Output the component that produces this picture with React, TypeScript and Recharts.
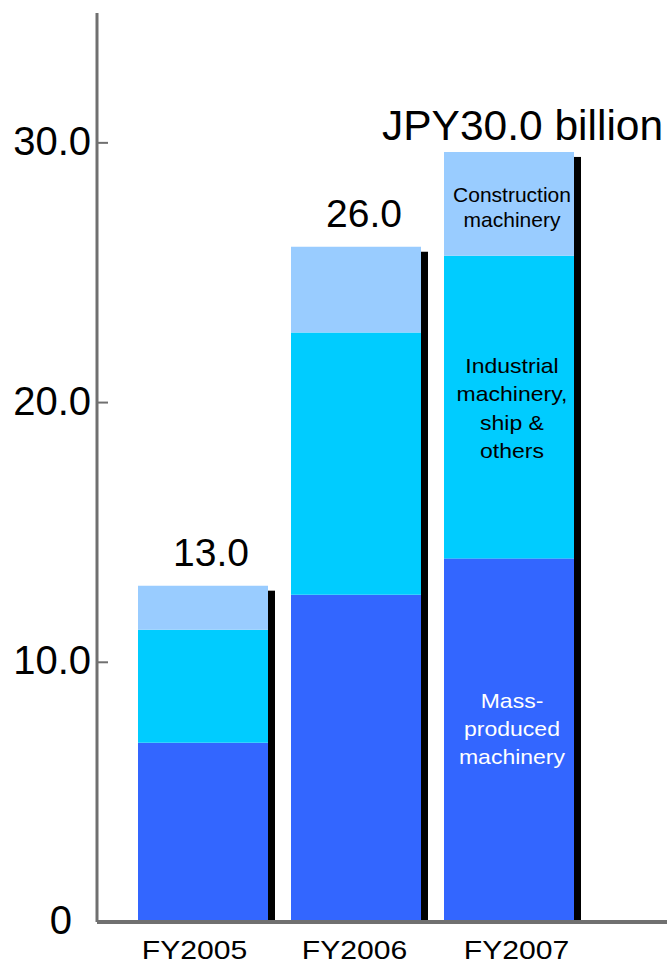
import { Bar, BarChart, LabelList, XAxis, YAxis } from 'recharts';

const YEARS = ['FY2005', 'FY2006', 'FY2007'];
const MASS = [6.9, 12.6, 14.0];
const INDUSTRIAL = [4.35, 10.1, 11.65];
const CONSTRUCTION = [1.7, 3.3, 4.0];
const TOTAL_LABELS = ['13.0', '26.0', 'JPY30.0 billion'];
const Y_TICKS = [0, 10, 20, 30];

const CONSTRUCTION_LINES = ['Construction', 'machinery'];
const INDUSTRIAL_LINES = ['Industrial', 'machinery,', 'ship &', 'others'];
const MASS_LINES = ['Mass-', 'produced', 'machinery'];

const FONT = '"Liberation Sans", Arial, Helvetica, sans-serif';
const AXIS_GREY = '#707070';

const data = YEARS.map((year, i) => ({
  year,
  mass: MASS[i],
  industrial: INDUSTRIAL[i],
  construction: CONSTRUCTION[i],
}));

// bottom segment also draws the black drop shadow on the right of the whole stack
const MassShape = (props: any) => {
  const { x, y, width, height, payload, fill } = props;
  const base = y + height;
  const ppu = height / payload.mass;
  const top = base - (payload.mass + payload.industrial + payload.construction) * ppu;
  return (
    <g>
      <rect x={x + width} y={top + 5} width={7} height={base - top - 4} fill="#000" />
      <rect x={x} y={y} width={width} height={height} fill={fill} />
    </g>
  );
};

const XTick = ({ x, y, payload, index }: any) => {
  const shift = [-8, -1, 8][index] ?? 0;
  return (
    <text
      transform={`translate(${x + shift},${y + 37}) scale(1.16,1)`}
      textAnchor="middle"
      fontSize={26}
      fontFamily={FONT}
      fill="#000"
    >
      {payload.value}
    </text>
  );
};

const YTick = ({ x, y, payload }: any) => {
  const v = payload.value;
  return (
    <g>
      {v !== 0 && <line x1={x} x2={x + 11} y1={y} y2={y} stroke={AXIS_GREY} strokeWidth={2} />}
      <text
        x={v === 0 ? x - 25 : x - 6}
        y={y + 12}
        textAnchor="end"
        fontSize={40}
        fontFamily={FONT}
        fill="#000"
      >
        {v === 0 ? '0' : v.toFixed(1)}
      </text>
    </g>
  );
};

const totalLabel = (props: any) => {
  const { index } = props;
  const vb = props.viewBox ?? props;
  const last = index === TOTAL_LABELS.length - 1;
  if (last) {
    return (
      <text x={vb.x - 62} y={vb.y - 12} fontSize={42.5} fontFamily={FONT} fill="#000">
        {TOTAL_LABELS[index]}
      </text>
    );
  }
  return (
    <text
      x={vb.x + vb.width / 2 + 8}
      y={vb.y - 20}
      textAnchor="middle"
      fontSize={39}
      fontFamily={FONT}
      fill="#000"
    >
      {TOTAL_LABELS[index]}
    </text>
  );
};

const segmentLabel =
  (lines: string[], color: string, fontSize: number, lineH: number, dy: number, sx: number) =>
  (props: any) => {
    if (props.index !== YEARS.length - 1) return null;
    const vb = props.viewBox ?? props;
    const cx = vb.x + vb.width / 2 + 3;
    const cy = vb.y + vb.height / 2 + dy;
    const first = cy - ((lines.length - 1) * lineH) / 2 + fontSize * 0.36;
    return (
      <g>
        {lines.map((t, i) => (
          <text
            key={i}
            transform={`translate(${cx},${first + i * lineH}) scale(${sx},1)`}
            textAnchor="middle"
            fontSize={fontSize}
            fontFamily={FONT}
            fill={color}
          >
            {t}
          </text>
        ))}
      </g>
    );
  };

export default function App() {
  return (
    <div style={{ position: 'absolute', left: 0, top: 0, width: 667, height: 964, background: '#fff' }}>
      <BarChart
        width={667}
        height={964}
        data={data}
        margin={{ top: 13, right: 0, bottom: 0, left: 0 }}
      >
        <XAxis
          dataKey="year"
          height={42}
          padding={{ left: 29, right: 82 }}
          axisLine={{ stroke: AXIS_GREY, strokeWidth: 4 }}
          tickLine={false}
          tickSize={0}
          tickMargin={0}
          interval={0}
          tick={<XTick />}
        />
        <YAxis
          width={97}
          domain={[0, 35]}
          ticks={Y_TICKS}
          allowDataOverflow
          axisLine={{ stroke: AXIS_GREY, strokeWidth: 3 }}
          tickLine={false}
          tickSize={0}
          tickMargin={0}
          tick={<YTick />}
        />
        <Bar dataKey="mass" stackId="s" fill="#3366FF" barSize={130} shape={MassShape} isAnimationActive={false}>
          <LabelList content={segmentLabel(MASS_LINES, '#fff', 20, 28, -11, 1.15)} />
        </Bar>
        <Bar dataKey="industrial" stackId="s" fill="#00CCFF" barSize={130} isAnimationActive={false}>
          <LabelList content={segmentLabel(INDUSTRIAL_LINES, '#000', 20, 28.5, 1, 1.15)} />
        </Bar>
        <Bar dataKey="construction" stackId="s" fill="#99CCFF" barSize={130} isAnimationActive={false}>
          <LabelList content={segmentLabel(CONSTRUCTION_LINES, '#000', 21, 25, 3, 1)} />
          <LabelList content={totalLabel} />
        </Bar>
      </BarChart>
    </div>
  );
}
